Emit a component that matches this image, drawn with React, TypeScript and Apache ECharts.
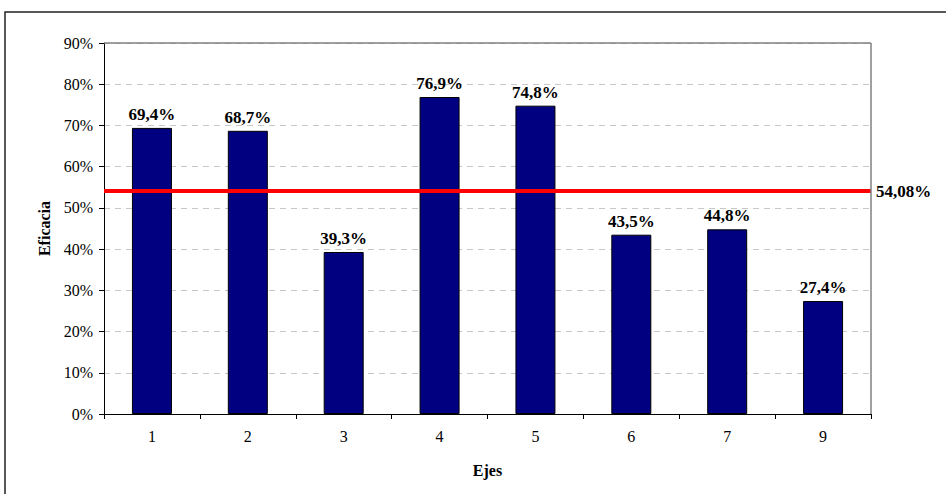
import React, { useEffect, useRef } from "react";
import * as echarts from "echarts";

const categories = ["1", "2", "3", "4", "5", "6", "7", "9"];
const efficacy = [69.4, 68.7, 39.3, 76.9, 74.8, 43.5, 44.8, 27.4];
const referenceValue = 54.08;
const yTicks = [0, 10, 20, 30, 40, 50, 60, 70, 80, 90];

const FONT = "'Liberation Serif', 'Times New Roman', serif";

export default function App() {
  const ref = useRef<HTMLDivElement>(null);
  useEffect(() => {
    if (!ref.current) return;
    const chart = echarts.init(ref.current, undefined, { renderer: "svg" });
    chart.setOption({
      animation: false,
      backgroundColor: "#ffffff",
      textStyle: { fontFamily: FONT },
      graphic: [
        {
          type: "rect",
          shape: { x: 5, y: 12, width: 1000, height: 1000 },
          style: { fill: "none", stroke: "#222", lineWidth: 1.5 },
          silent: true,
          z: -1,
        },
      ],
      grid: { left: 104, right: 75, top: 43, bottom: 80, containLabel: false },
      xAxis: {
        type: "category",
        data: categories,
        name: "Ejes",
        nameLocation: "middle",
        nameGap: 48,
        nameTextStyle: { fontFamily: FONT, fontWeight: "bold", fontSize: 16, color: "#000" },
        axisLine: { lineStyle: { color: "#000", width: 1 } },
        axisTick: { show: true, alignWithLabel: false, length: 5, lineStyle: { color: "#000" } },
        axisLabel: { fontFamily: FONT, fontSize: 16, color: "#000", margin: 14 },
        splitLine: { show: false },
      },
      yAxis: [
        {
          type: "value",
          min: 0,
          max: 90,
          interval: 10,
          name: "Eficacia",
          nameLocation: "middle",
          nameGap: 52,
          nameTextStyle: { fontFamily: FONT, fontWeight: "bold", fontSize: 16, color: "#000" },
          axisLine: { show: true, lineStyle: { color: "#000", width: 1 } },
          axisTick: { show: true, length: 5, lineStyle: { color: "#000" } },
          axisLabel: {
            fontFamily: FONT,
            fontSize: 16,
            color: "#000",
            margin: 11,
            formatter: (v: number) => (yTicks.includes(v) ? v + "%" : ""),
          },
          splitLine: {
            show: true,
            lineStyle: { color: "#c8c8c8", type: [6, 5], width: 1 },
          },
        },
      ],
      series: [
        {
          type: "bar",
          data: efficacy,
          barWidth: 40,
          itemStyle: { color: "#000080", borderColor: "#000", borderWidth: 1 },
          label: {
            show: true,
            position: "top",
            distance: 5,
            fontFamily: FONT,
            fontWeight: "bold",
            fontSize: 17,
            color: "#000",
            formatter: (p: any) => p.value.toFixed(1).replace(".", ",") + "%",
          },
          markLine: {
            silent: true,
            symbol: ["none", "none"],
            lineStyle: { color: "#ff0000", width: 4, type: "solid" },
            label: {
              show: true,
              position: "end",
              distance: 5,
              fontFamily: FONT,
              fontWeight: "bold",
              fontSize: 17,
              color: "#000",
              formatter: () => referenceValue.toFixed(2).replace(".", ",") + "%",
            },
            data: [{ yAxis: referenceValue }],
          },
          z: 2,
        },
        {
          type: "line",
          data: [],
          markLine: {
            silent: true,
            symbol: ["none", "none"],
            lineStyle: { color: "#808080", width: 1.5, type: "solid" },
            label: { show: false },
            data: [
              { yAxis: 90 },
              [
                { xAxis: "9", yAxis: 0, x: 871 },
                { xAxis: "9", yAxis: 90, x: 871 },
              ],
            ],
          },
        },
      ],
    });
    return () => chart.dispose();
  }, []);
  return (
    <div
      ref={ref}
      style={{ position: "fixed", left: 0, top: 0, width: 946, height: 494 }}
    />
  );
}
